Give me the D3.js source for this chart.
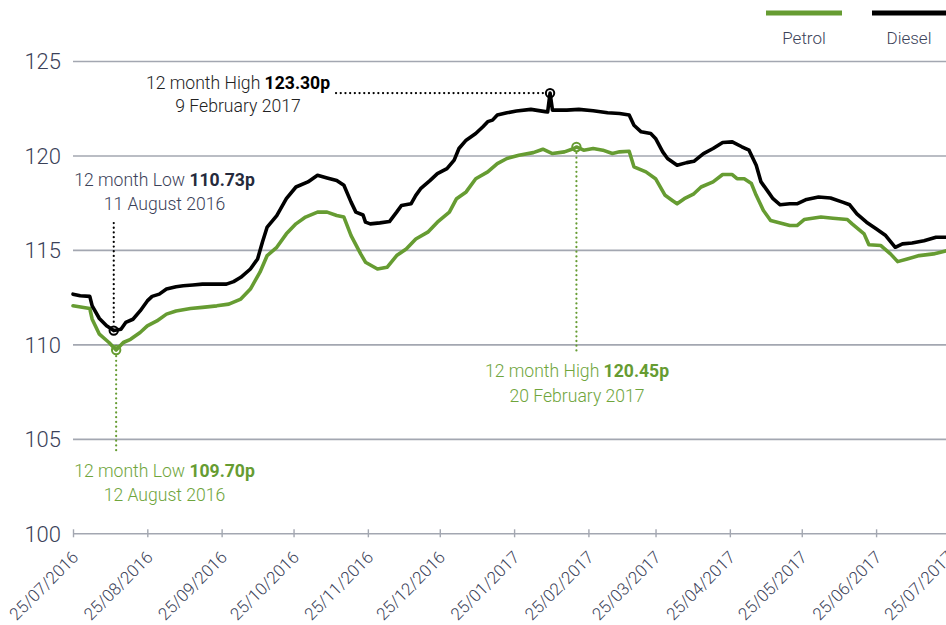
<!DOCTYPE html>
<html>
<head>
<meta charset="utf-8">
<script src="https://cdn.jsdelivr.net/npm/d3@7"></script>
<style>
  html, body { margin: 0; padding: 0; background: #fff; }
  svg { display: block; font-family: Roboto, "Liberation Sans", Arial, sans-serif; font-weight: 300; }
</style>
</head>
<body>
<svg id="chart" width="946" height="625"></svg>
<script>
// Readings of UK average pump prices (pence per litre)
const dieselDates = [
  "2016-07-25","2016-07-28","2016-08-01","2016-08-02","2016-08-05","2016-08-08","2016-08-11","2016-08-14",
  "2016-08-16","2016-08-19","2016-08-22","2016-08-25","2016-08-27","2016-08-30","2016-09-02","2016-09-06",
  "2016-09-09","2016-09-13","2016-09-17","2016-09-23","2016-09-27","2016-09-30","2016-10-03","2016-10-07",
  "2016-10-10","2016-10-12","2016-10-14","2016-10-18","2016-10-22","2016-10-26","2016-10-31","2016-11-04",
  "2016-11-08","2016-11-12","2016-11-15","2016-11-18","2016-11-20","2016-11-23","2016-11-24","2016-11-26",
  "2016-11-30","2016-12-04","2016-12-07","2016-12-09","2016-12-13","2016-12-15","2016-12-17","2016-12-21",
  "2016-12-24","2016-12-28","2016-12-31","2017-01-02","2017-01-05","2017-01-09","2017-01-12","2017-01-14",
  "2017-01-16","2017-01-18","2017-01-22","2017-01-26","2017-02-01","2017-02-07","2017-02-08","2017-02-09",
  "2017-02-10","2017-02-16","2017-02-21","2017-02-27","2017-03-05","2017-03-10","2017-03-14","2017-03-16",
  "2017-03-19","2017-03-23","2017-03-25","2017-03-28","2017-03-30","2017-04-03","2017-04-07","2017-04-10",
  "2017-04-14","2017-04-18","2017-04-22","2017-04-26","2017-04-30","2017-05-03","2017-05-06","2017-05-08",
  "2017-05-11","2017-05-13","2017-05-16","2017-05-20","2017-05-23","2017-05-27","2017-06-01","2017-06-06",
  "2017-06-11","2017-06-14","2017-06-17","2017-06-21","2017-06-25","2017-06-29","2017-07-03","2017-07-06",
  "2017-07-10","2017-07-15","2017-07-20","2017-07-25"
];
const dieselPrices = [
  112.66,112.57,112.54,112.04,111.37,110.98,110.73,110.80,
  111.16,111.33,111.77,112.30,112.54,112.66,112.93,113.05,
  113.10,113.14,113.19,113.19,113.19,113.32,113.55,113.99,
  114.52,115.41,116.21,116.82,117.71,118.33,118.60,118.95,
  118.81,118.68,118.42,117.53,117.00,116.85,116.47,116.38,
  116.43,116.50,117.00,117.35,117.44,117.89,118.24,118.68,
  119.04,119.30,119.75,120.37,120.81,121.16,121.52,121.79,
  121.87,122.14,122.26,122.35,122.44,122.32,122.30,123.30,
  122.40,122.40,122.44,122.37,122.26,122.22,122.14,121.60,
  121.25,121.16,120.90,120.19,119.84,119.48,119.62,119.69,
  120.10,120.37,120.69,120.72,120.46,120.28,119.48,118.60,
  118.07,117.71,117.39,117.44,117.44,117.67,117.80,117.75,
  117.53,117.39,116.91,116.47,116.12,115.76,115.14,115.32,
  115.37,115.49,115.67,115.67
];

const petrolDates = [
  "2016-07-25","2016-08-01","2016-08-02","2016-08-05","2016-08-09","2016-08-12","2016-08-15","2016-08-18",
  "2016-08-22","2016-08-25","2016-08-29","2016-09-02","2016-09-06","2016-09-12","2016-09-17","2016-09-23",
  "2016-09-28","2016-10-03","2016-10-07","2016-10-11","2016-10-14","2016-10-18","2016-10-22","2016-10-26",
  "2016-10-30","2016-11-04","2016-11-08","2016-11-12","2016-11-15","2016-11-18","2016-11-22","2016-11-24",
  "2016-11-29","2016-12-03","2016-12-07","2016-12-11","2016-12-15","2016-12-20","2016-12-24","2016-12-29",
  "2017-01-01","2017-01-05","2017-01-09","2017-01-14","2017-01-18","2017-01-22","2017-01-27","2017-02-02",
  "2017-02-06","2017-02-10","2017-02-15","2017-02-19","2017-02-20","2017-02-23","2017-02-27","2017-03-03",
  "2017-03-07","2017-03-10","2017-03-14","2017-03-16","2017-03-21","2017-03-25","2017-03-29","2017-04-01",
  "2017-04-03","2017-04-06","2017-04-10","2017-04-13","2017-04-18","2017-04-22","2017-04-26","2017-04-28",
  "2017-05-01","2017-05-04","2017-05-06","2017-05-09","2017-05-12","2017-05-16","2017-05-20","2017-05-23",
  "2017-05-26","2017-06-02","2017-06-07","2017-06-13","2017-06-15","2017-06-20","2017-06-22","2017-06-27",
  "2017-07-01","2017-07-04","2017-07-08","2017-07-13","2017-07-19","2017-07-25"
];
const petrolPrices = [
  112.04,111.90,111.33,110.54,110.10,109.70,110.10,110.27,
  110.63,110.98,111.24,111.60,111.77,111.90,111.96,112.04,
  112.13,112.40,112.93,113.82,114.70,115.14,115.85,116.38,
  116.74,117.00,117.00,116.82,116.74,115.76,114.79,114.35,
  113.99,114.08,114.70,115.05,115.58,115.94,116.47,117.00,
  117.71,118.07,118.77,119.13,119.57,119.84,120.01,120.15,
  120.33,120.10,120.19,120.37,120.45,120.28,120.37,120.28,
  120.10,120.19,120.22,119.40,119.13,118.77,117.89,117.62,
  117.44,117.71,117.97,118.33,118.60,118.99,118.99,118.77,
  118.77,118.51,117.89,117.09,116.56,116.43,116.29,116.29,
  116.61,116.74,116.68,116.61,116.38,115.85,115.27,115.23,
  114.79,114.38,114.52,114.70,114.79,114.98
];

const yTicks = [100, 105, 110, 115, 120, 125];
const xTickDates = [
  "2016-07-25","2016-08-25","2016-09-25","2016-10-25","2016-11-25","2016-12-25",
  "2017-01-25","2017-02-25","2017-03-25","2017-04-25","2017-05-25","2017-06-25","2017-07-25"
];

// 12-month extremes: [date, price]
const dieselHigh = ["2017-02-09", 123.30];
const dieselLow  = ["2016-08-11", 110.73];
const petrolHigh = ["2017-02-20", 120.45];
const petrolLow  = ["2016-08-12", 109.70];

const GREEN = "#669c32";
const GREEN_TEXT = "#6fa53c";
const INK = "#3b4259";
const GRID = "#a3a7b1";

const parse = d3.timeParse("%Y-%m-%d");
const fmt = d3.timeFormat("%d/%m/%Y");

const svg = d3.select("#chart");
const W = 946;
const plotLeft = 73, plotRight = 948, plotTop = 61, plotBottom = 533.3;

const x = d3.scaleTime()
  .domain([parse("2016-07-25"), parse("2017-07-25")])
  .range([plotLeft, plotRight]);
const y = d3.scaleLinear().domain([100, 125]).range([plotBottom, plotTop]);

// horizontal gridlines + value labels
const yAxis = d3.axisLeft(y)
  .tickValues(yTicks)
  .tickSize(-(W - plotLeft))
  .tickPadding(12)
  .tickFormat(d3.format("d"));
const gy = svg.append("g").attr("transform", `translate(${plotLeft},0)`).call(yAxis);
gy.attr("font-family", null);
gy.select(".domain").remove();
gy.selectAll(".tick line").attr("stroke", GRID).attr("stroke-width", 1.6);
gy.selectAll(".tick text")
  .attr("fill", INK).attr("font-size", 22)
  .attr("dy", "0.36em");

// date axis along the 100 line
const xAxis = d3.axisBottom(x)
  .tickValues(xTickDates.map(parse))
  .tickFormat(fmt)
  .tickSize(4)
  .tickPadding(0);
const gx = svg.append("g").attr("transform", `translate(0,${plotBottom})`).call(xAxis);
gx.attr("font-family", null);
gx.select(".domain").remove();
gx.selectAll(".tick line").attr("y1", -4).attr("y2", 4).attr("stroke", GRID).attr("stroke-width", 1.4);
gx.selectAll(".tick text")
  .attr("fill", INK).attr("font-size", 17)
  .attr("text-anchor", "end")
  .attr("dy", null)
  .attr("transform", "translate(6,25) rotate(-45)")
  .attr("y", 0).attr("x", 0);

// price lines
const line = d3.line()
  .x(d => x(d[0]))
  .y(d => y(d[1]))
  .curve(d3.curveLinear);

const petrol = petrolDates.map((d, i) => [parse(d), petrolPrices[i]]);
const diesel = dieselDates.map((d, i) => [parse(d), dieselPrices[i]]);

svg.append("path").datum(petrol)
  .attr("d", line).attr("fill", "none")
  .attr("stroke", GREEN).attr("stroke-width", 3.6)
  .attr("stroke-linejoin", "round").attr("stroke-linecap", "round");

svg.append("path").datum(diesel)
  .attr("d", line).attr("fill", "none")
  .attr("stroke", "#000").attr("stroke-width", 3.6)
  .attr("stroke-linejoin", "round").attr("stroke-linecap", "round");

// extreme markers and leader lines
function dotted(x1, y1, x2, y2, color) {
  svg.append("line")
    .attr("x1", x1).attr("y1", y1).attr("x2", x2).attr("y2", y2)
    .attr("stroke", color).attr("stroke-width", 2.2)
    .attr("stroke-linecap", "round").attr("stroke-dasharray", "0.1,4.6");
}
function marker(pt, color) {
  svg.append("circle")
    .attr("cx", x(parse(pt[0]))).attr("cy", y(pt[1])).attr("r", 4.2)
    .attr("fill", "none").attr("stroke", color).attr("stroke-width", 2);
}
function label(cx, yb, parts, color) {
  const t = svg.append("text").attr("x", cx).attr("y", yb)
    .attr("text-anchor", "middle").attr("font-size", 17.6).attr("fill", color);
  parts.forEach(p => {
    t.append("tspan").text(p.text)
      .attr("font-weight", p.bold ? "bold" : null)
      .attr("fill", p.fill || null);
  });
}

// Diesel high
dotted(336, y(dieselHigh[1]), x(parse(dieselHigh[0])) - 6, y(dieselHigh[1]), "#000");
marker(dieselHigh, "#000");
label(238, 89, [{text: "12 month High "}, {text: "123.30p", bold: true, fill: "#000"}], "#222");
label(238, 112, [{text: "9 February 2017"}], "#222");

// Diesel low
dotted(x(parse(dieselLow[0])), 223, x(parse(dieselLow[0])), y(dieselLow[1]) - 6, "#000");
marker(dieselLow, "#000");
label(164.5, 186, [{text: "12 month Low "}, {text: "110.73p", bold: true, fill: "#252a3c"}], INK);
label(164.5, 210, [{text: "11 August 2016"}], INK);

// Petrol low
dotted(x(parse(petrolLow[0])), y(petrolLow[1]) + 6, x(parse(petrolLow[0])), 453, GREEN);
marker(petrolLow, GREEN);
label(164.5, 477, [{text: "12 month Low "}, {text: "109.70p", bold: true, fill: GREEN}], GREEN_TEXT);
label(164.5, 501, [{text: "12 August 2016"}], GREEN_TEXT);

// Petrol high
dotted(x(parse(petrolHigh[0])), y(petrolHigh[1]) + 6, x(parse(petrolHigh[0])), 352, GREEN);
marker(petrolHigh, GREEN);
label(577, 377, [{text: "12 month High "}, {text: "120.45p", bold: true, fill: GREEN}], GREEN_TEXT);
label(577, 401.5, [{text: "20 February 2017"}], GREEN_TEXT);

// legend
const legend = [
  {name: "Petrol", color: GREEN, x1: 766, x2: 842},
  {name: "Diesel", color: "#000", x1: 872, x2: 950}
];
legend.forEach(l => {
  svg.append("line").attr("x1", l.x1).attr("x2", l.x2).attr("y1", 13).attr("y2", 13)
    .attr("stroke", l.color).attr("stroke-width", 5);
  svg.append("text").attr("x", (l.x1 + Math.min(l.x2, 946)) / 2).attr("y", 44)
    .attr("text-anchor", "middle").attr("font-size", 17).attr("fill", INK).text(l.name);
});
</script>
</body>
</html>
